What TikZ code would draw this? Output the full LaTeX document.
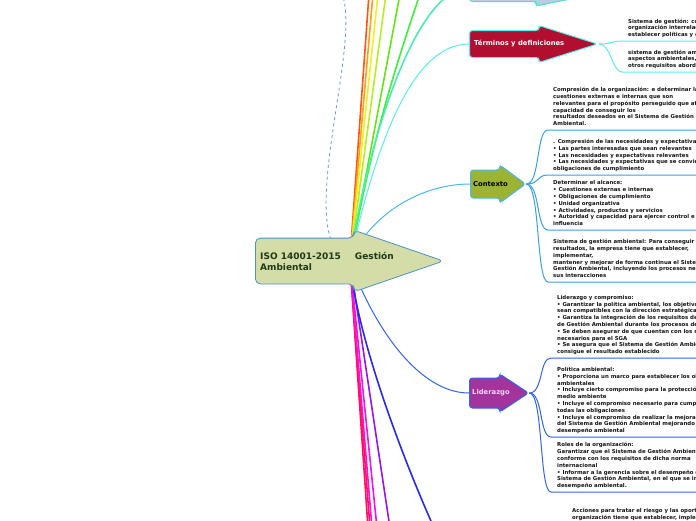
\documentclass[tikz,border=0pt]{standalone}
\usepackage{fontspec}
\setmainfont{DejaVu Sans}
\usepackage{tikz}
\usetikzlibrary{shapes.arrows,positioning,backgrounds,calc}
\definecolor{rootfill}{RGB}{212,221,168}
\definecolor{rootdraw}{RGB}{74,144,204}
\definecolor{roottext}{RGB}{30,58,20}
\definecolor{ctxfill}{RGB}{157,179,50}
\definecolor{ctxdraw}{RGB}{72,184,240}
\definecolor{ctxline}{RGB}{56,160,232}
\definecolor{lidfill}{RGB}{162,52,156}
\definecolor{liddraw}{RGB}{48,100,236}
\definecolor{lidtext}{RGB}{250,214,250}
\definecolor{trmfill}{RGB}{178,14,48}
\definecolor{trmdraw}{RGB}{84,240,236}
\definecolor{upfill}{RGB}{190,202,226}
\definecolor{updraw}{RGB}{64,232,200}
\definecolor{notetext}{RGB}{20,20,20}
\definecolor{dashblue}{RGB}{96,150,230}
\definecolor{rbred}{RGB}{255,84,20}
\definecolor{rborange}{RGB}{255,160,20}
\definecolor{rbyellow}{RGB}{240,240,30}
\definecolor{rblime}{RGB}{180,240,30}
\definecolor{rbgreen}{RGB}{100,230,20}
\definecolor{rbleaf}{RGB}{60,240,60}
\definecolor{rbmint}{RGB}{70,240,170}
\definecolor{bred}{RGB}{255,20,80}
\definecolor{bpink}{RGB}{255,10,130}
\definecolor{brose}{RGB}{255,20,190}
\definecolor{bmagenta}{RGB}{236,20,240}
\definecolor{bviolet}{RGB}{150,20,240}
\definecolor{bblue}{RGB}{40,40,240}

\begin{document}
\begin{tikzpicture}[x=1pt, y=-1pt,
    every node/.style={align=left},
    topic/.style={single arrow, anchor=tail, rounded corners=3pt, inner xsep=0pt, line width=1pt},
    topictext/.style={font=\fontsize{6.8}{8}\selectfont\bfseries, inner sep=0pt},
    note/.style={anchor=south west, font=\fontsize{5.4}{6.8}\selectfont\bfseries, text=notetext, inner xsep=5pt, inner ysep=2pt, execute at end node=\strut},
    branch/.style={line width=1.6pt},
    link/.style={line width=1pt},
    uline/.style={line width=1pt}
]
\useasboundingbox (0,0) rectangle (696,520);
\clip (0,0) rectangle (696,520);

% Central topic
\node[topic, fill=rootfill, draw=rootdraw, line width=0.8pt, rounded corners=5pt, inner ysep=22.5pt, minimum height=188pt, minimum width=61pt, single arrow head extend=8pt, single arrow tip angle=38] (root) at (255,261) {};
\node[topictext, text=roottext, font=\fontsize{9}{11}\selectfont\bfseries, right=5pt of root.tail] (rootlbl) {ISO 14001-2015\hspace{14pt}Gestión\\Ambiental};
\coordinate (hub) at ($(root.tail)!0.5!(root.tip)$);

% Main topics
\node[topic, fill=upfill, draw=updraw, inner ysep=14pt, minimum height=160pt, minimum width=37pt, single arrow head extend=4.5pt, single arrow tip angle=23] (upper) at (469,-13) {};
\node[topic, fill=trmfill, draw=trmdraw, inner ysep=13pt, minimum height=128pt, minimum width=36pt, single arrow head extend=5pt, single arrow tip angle=35] (trm) at (469,44) {};
\node[topic, fill=ctxfill, draw=ctxdraw, inner ysep=13.5pt, minimum height=55pt, minimum width=37pt, single arrow head extend=5pt, single arrow tip angle=73] (ctx) at (470,184) {};
\node[topic, fill=lidfill, draw=liddraw, inner ysep=14.5pt, minimum height=59pt, minimum width=37pt, single arrow head extend=4pt, single arrow tip angle=67] (lid) at (469,393) {};
\node[topictext, text=white, right=5pt of trm.tail] (trmlbl) {Términos y definiciones};
\node[topictext, right=3pt of ctx.tail] (ctxlbl) {Contexto};
\node[topictext, text=lidtext, right=3pt of lid.tail] (lidlbl) {Liderazgo};

% Términos y definiciones
\node[note, inner xsep=6pt] (trmA) at (622,41) {Sistema de gestión: conjunto\\organización interrelacionados\\establecer políticas y objetivos};
\node[note, inner xsep=6pt] (trmB) at (622,72) {sistema de gestión ambiental\\aspectos ambientales, cumplir\\otros requisitos abordando};

% Contexto
\node[note] (ctxA) at (548,130) {Compresión de la organización: e determinar las\\cuestiones externas e internas que son\\relevantes para el propósito perseguido que afectan\\capacidad de conseguir los\\resultados deseados en el Sistema de Gestión\\Ambiental.};
\node[note] (ctxB) at (548,175) {. Compresión de las necesidades y expectativas\\• Las partes interesadas que sean relevantes\\• Las necesidades y expectativas relevantes\\• Las necesidades y expectativas que se conviertan\\obligaciones de cumplimiento};
\node[note] (ctxC) at (548,230) {Determinar el alcance:\\• Cuestiones externas e internas\\• Obligaciones de cumplimiento\\• Unidad organizativa\\• Actividades, productos y servicios\\• Autoridad y capacidad para ejercer control e\\influencia};
\node[note] (ctxD) at (548,282) {Sistema de gestión ambiental: Para conseguir los\\resultados, la empresa tiene que establecer,\\implementar,\\mantener y mejorar de forma continua el Sistema\\Gestión Ambiental, incluyendo los procesos necesarios\\sus interacciones};

% Liderazgo
\node[note, inner xsep=6pt] (lidA) at (551,358) {Liderazgo y compromiso:\\• Garantizar la política ambiental, los objetivos\\sean compatibles con la dirección estratégica\\• Garantiza la integración de los requisitos del\\de Gestión Ambiental durante los procesos de\\• Se deben asegurar de que cuentan con los recursos\\necesarios para el SGA\\• Se asegura que el Sistema de Gestión Ambiental\\consigue el resultado establecido};
\node[note, inner xsep=6pt] (lidB) at (551,437) {Política ambiental:\\• Proporciona un marco para establecer los objetivos\\ambientales\\• Incluye cierto compromiso para la protección del\\medio ambiente\\• Incluye el compromiso necesario para cumplir\\todas las obligaciones\\• Incluye el compromiso de realizar la mejora\\del Sistema de Gestión Ambiental mejorando el\\desempeño ambiental};
\node[note, inner xsep=6pt] (lidC) at (551,492) {Roles de la organización:\\Garantizar que el Sistema de Gestión Ambiental\\conforme con los requisitos de dicha norma\\internacional\\• Informar a la gerencia sobre el desempeño del\\Sistema de Gestión Ambiental, en el que se incluye\\desempeño ambiental.};

% next topic, below the page
\node[note, anchor=north west] (nextA) at (567,506.5) {Acciones para tratar el riesgo y las oportunidades\\organización tiene que establecer, implementar};

\begin{scope}[on background layer]
% branches that leave the page
\foreach \c/\x/\b [count=\i] in {rbred/369/0, rborange/373/0, rbyellow/378/0, rblime/386/0, rbgreen/400/0, rbleaf/420/4}{
  \coordinate (up\i) at (\x,-6);
  \draw[branch, \c] (hub) to[bend left=\b] (up\i);
}
\foreach \c/\x [count=\i] in {bred/368, bpink/370, brose/372, bmagenta/377, bviolet/390}{
  \coordinate (down\i) at (\x,528);
  \draw[branch, \c] (hub) -- (down\i);
}
\coordinate (down6) at (434,528);
\draw[branch, bblue] (hub) .. controls (356,330) and (395,440) .. (down6);
\draw[branch, rbmint] (hub) .. controls (368,140) and (415,-10) .. (upper.tail);
\coordinate (dashend) at (341,-8);
\draw[dashed, dashblue, line width=0.8pt] (hub) .. controls (290,240) and (365,40) .. (dashend);

% links to the main topics
\draw[link, trmdraw] (hub) .. controls (375,150) and (410,44) .. (trm.tail);
\draw[link, ctxdraw] (hub) .. controls (370,215) and (420,184) .. (ctx.tail);
\draw[link, liddraw] (hub) .. controls (375,330) and (420,393) .. (lid.tail);

% links to the notes
\coordinate (edge) at (700,0);
\foreach \n in {trmA,trmB}
  \draw[uline, trmdraw] (trm.tip) .. controls +(12,0) and +(-10,0) .. (\n.south west) -- (\n.south west -| edge);
\foreach \n in {ctxA,ctxB,ctxC,ctxD}
  \draw[uline, ctxline] (ctx.tip) .. controls +(14,0) and +(-12,0) .. (\n.south west) -- (\n.south west -| edge);
\foreach \n in {lidA,lidB,lidC}
  \draw[uline, liddraw] (lid.tip) .. controls +(14,0) and +(-12,0) .. (\n.south west) -- (\n.south west -| edge);
\end{scope}

\end{tikzpicture}
\end{document}
